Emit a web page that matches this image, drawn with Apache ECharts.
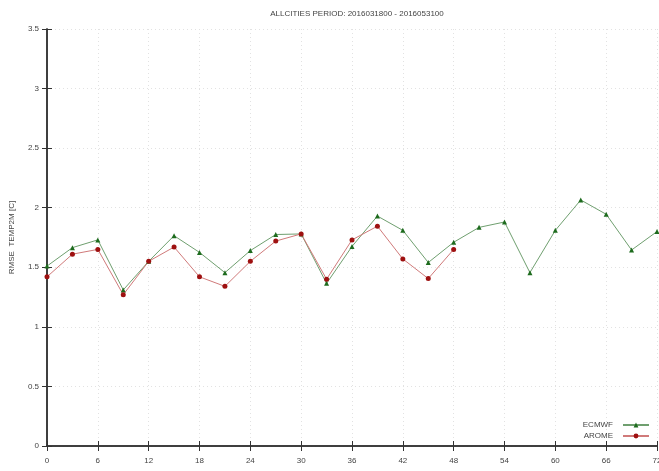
<!DOCTYPE html>
<html>
<head>
<meta charset="utf-8">
<script src="https://cdn.jsdelivr.net/npm/echarts@6/dist/echarts.min.js"></script>
<style>
html,body{margin:0;padding:0;background:#fff;}
#chart{width:659px;height:471px;}
</style>
</head>
<body>
<div id="chart"></div>
<script>
// Forecast steps (hours) and RMSE of 2 m temperature per model
const ecmwfSteps = [0,3,6,9,12,15,18,21,24,27,30,33,36,39,42,45,48,51,54,57,60,63,66,69,72];
const ecmwfRmse  = [1.51,1.665,1.73,1.31,1.55,1.765,1.625,1.455,1.64,1.775,1.78,1.365,1.675,1.93,1.81,1.54,1.71,1.835,1.88,1.455,1.81,2.065,1.945,1.645,1.80];
const aromeSteps = [0,3,6,9,12,15,18,21,24,27,30,33,36,39,42,45,48];
const aromeRmse  = [1.42,1.61,1.65,1.27,1.55,1.67,1.42,1.34,1.55,1.72,1.78,1.40,1.73,1.845,1.57,1.405,1.65];
const xTicks = {min: 0, max: 72, step: 6};
const yTicks = {min: 0, max: 3.5, step: 0.5};

const font = 'Liberation Sans, Arial, sans-serif';
const textColor = '#444';

function pairs(xs, ys) { return xs.map((x, i) => [x, ys[i]]); }

const frameLine = {show: true, lineStyle: {color: '#333', width: 1.5}};
const gridLine = {show: true, lineStyle: {color: '#e2e2e2', type: [1, 3], width: 1}};

const chart = echarts.init(document.getElementById('chart'));
chart.setOption({
  animation: false,
  backgroundColor: '#fff',
  title: {
    text: 'ALLCITIES PERIOD: 2016031800 - 2016053100',
    left: 352, top: 5, textAlign: 'center',
    textStyle: {fontFamily: font, fontSize: 8, fontWeight: 'normal', color: textColor}
  },
  grid: {left: 47, right: 2, top: 29, bottom: 25, containLabel: false, outerBoundsMode: 'none'},
  xAxis: [{
    type: 'value', min: xTicks.min, max: xTicks.max, interval: xTicks.step,
    name: 'STEP', nameLocation: 'middle', nameGap: 21,
    nameTextStyle: {fontFamily: font, fontSize: 8, color: textColor},
    axisLine: frameLine,
    axisTick: {show: true, inside: true, length: 5, lineStyle: {color: '#333'}},
    axisLabel: {fontFamily: font, fontSize: 8, color: textColor, margin: 11, hideOverlap: false},
    splitLine: gridLine
  }, {
    type: 'value', position: 'top', min: xTicks.min, max: xTicks.max, interval: xTicks.step,
    axisLine: frameLine,
    axisTick: {show: true, inside: true, length: 5, lineStyle: {color: '#333'}},
    axisLabel: {show: false}, splitLine: {show: false}
  }],
  yAxis: [{
    type: 'value', min: yTicks.min, max: yTicks.max, interval: yTicks.step,
    name: 'RMSE  TEMP2M [C]', nameLocation: 'middle', nameGap: 31,
    nameTextStyle: {fontFamily: font, fontSize: 8, color: textColor},
    axisLine: frameLine,
    axisTick: {show: true, inside: true, length: 5, lineStyle: {color: '#333'}},
    axisLabel: {fontFamily: font, fontSize: 8, color: textColor, margin: 8},
    splitLine: gridLine
  }, {
    type: 'value', position: 'right', min: yTicks.min, max: yTicks.max, interval: yTicks.step,
    axisLine: frameLine,
    axisTick: {show: true, inside: true, length: 5, lineStyle: {color: '#333'}},
    axisLabel: {show: false}, splitLine: {show: false}
  }],
  legend: {
    orient: 'vertical', right: 4, bottom: 26, align: 'right',
    itemWidth: 26, itemHeight: 6, itemGap: 3,
    textStyle: {fontFamily: font, fontSize: 8, color: textColor, padding: [0, 5, 0, 0]},
    data: ['ECMWF', 'AROME']
  },
  series: [{
    name: 'ECMWF', type: 'line', xAxisIndex: 0, yAxisIndex: 0,
    data: pairs(ecmwfSteps, ecmwfRmse),
    symbol: 'triangle', symbolSize: 5,
    itemStyle: {color: '#1d6b1d'},
    lineStyle: {color: '#6f9f6f', width: 1}
  }, {
    name: 'AROME', type: 'line', xAxisIndex: 0, yAxisIndex: 0,
    data: pairs(aromeSteps, aromeRmse),
    symbol: 'circle', symbolSize: 5,
    itemStyle: {color: '#9e1010'},
    lineStyle: {color: '#d07a7a', width: 1}
  }]
});
</script>
</body>
</html>
